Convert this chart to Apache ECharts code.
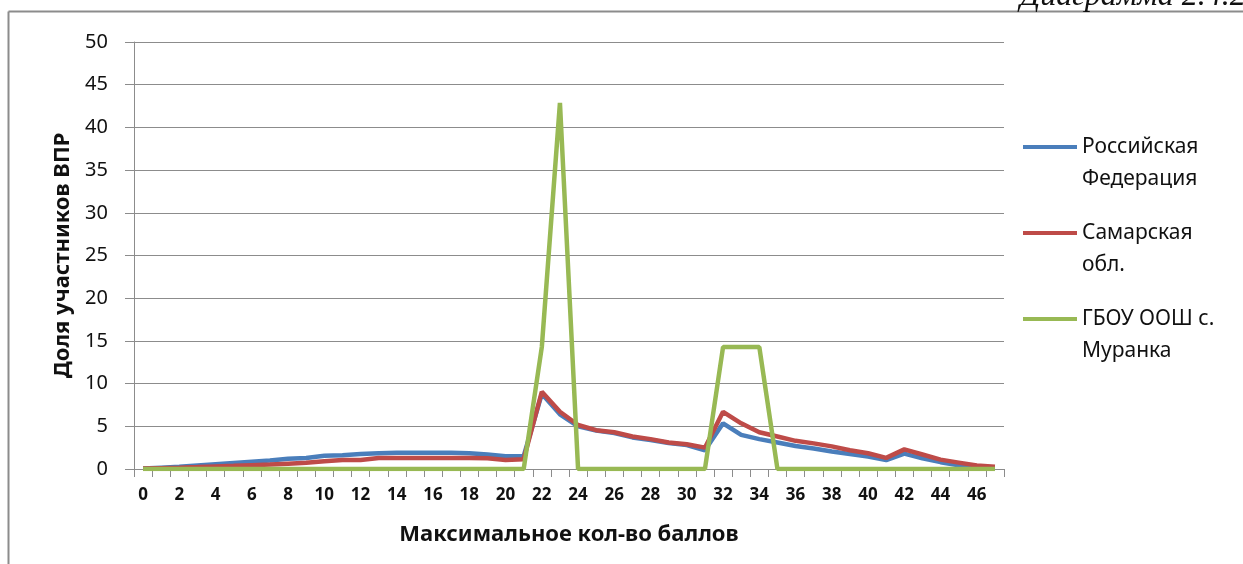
<!DOCTYPE html>
<html>
<head>
<meta charset="utf-8">
<script src="https://cdn.jsdelivr.net/npm/echarts@6/dist/echarts.min.js"></script>
<style>
html,body{margin:0;padding:0;background:#fff;}
#chart{width:1243px;height:564px;}
</style>
</head>
<body>
<div id="chart"></div>
<script>
var categories = [];
for (var c = 0; c <= 47; c++) categories.push(String(c));

var seriesNames = ['Российская\nФедерация', 'Самарская\nобл.', 'ГБОУ ООШ с.\nМуранка'];

var rfValues = [0.05, 0.15, 0.25, 0.4, 0.55, 0.7, 0.85, 1.0, 1.2, 1.3, 1.55, 1.6, 1.75, 1.85, 1.9, 1.9, 1.9, 1.9, 1.85, 1.7, 1.5, 1.5,
  8.8, 6.4, 5.0, 4.5, 4.2, 3.7, 3.4, 3.05, 2.8, 2.2,
  5.35, 4.0, 3.5, 3.1, 2.7, 2.4, 2.05, 1.75, 1.45, 1.05, 1.8, 1.25, 0.8, 0.45, 0.15, 0.05];

var samaraValues = [0.05, 0.1, 0.15, 0.22, 0.3, 0.37, 0.45, 0.52, 0.62, 0.72, 0.92, 1.05, 1.05, 1.3, 1.3, 1.3, 1.3, 1.3, 1.3, 1.25, 1.05, 1.15,
  9.05, 6.7, 5.15, 4.55, 4.3, 3.8, 3.5, 3.1, 2.9, 2.5,
  6.7, 5.35, 4.3, 3.8, 3.3, 3.0, 2.65, 2.2, 1.85, 1.3, 2.3, 1.7, 1.1, 0.75, 0.4, 0.25];

var schoolValues = [0, 0, 0, 0, 0, 0, 0, 0, 0, 0, 0, 0, 0, 0, 0, 0, 0, 0, 0, 0, 0, 0,
  14.29, 42.86, 0, 0, 0, 0, 0, 0, 0, 0,
  14.29, 14.29, 14.29, 0, 0, 0, 0, 0, 0, 0, 0, 0, 0, 0, 0, 0];

var yTicks = { min: 0, max: 50, interval: 5 };
var colors = ['#4A7EBB', '#BE4B48', '#98B954'];

var chart = echarts.init(document.getElementById('chart'), null, { renderer: 'canvas' });
var FONT = 'Noto Sans';

function legendFor(i, top) {
  return {
    show: true,
    data: [seriesNames[i]],
    orient: 'vertical',
    left: 1018,
    top: top,
    itemWidth: 54,
    itemHeight: 4,
    itemGap: 0,
    icon: 'rect',
    selectedMode: false,
    formatter: function (name) { return ' \n' + name; },
    textStyle: { fontFamily: FONT, fontSize: 21, color: '#111', lineHeight: 32 }
  };
}

chart.setOption({
  animation: false,
  backgroundColor: '#fff',
  color: colors,
  grid: { left: 134, right: 239, top: 42, bottom: 95, containLabel: false },
  legend: [legendFor(0, 94), legendFor(1, 180), legendFor(2, 266)],
  xAxis: {
    type: 'category',
    data: categories,
    boundaryGap: true,
    name: 'Максимальное кол-во баллов',
    nameLocation: 'middle',
    nameGap: 55,
    nameTextStyle: { fontFamily: FONT, fontSize: 22, fontWeight: 'bold', color: '#111' },
    axisLine: { show: true, lineStyle: { color: '#8c8c8c', width: 1 } },
    axisTick: { show: true, length: 8, interval: 0, lineStyle: { color: '#8c8c8c' } },
    axisLabel: { interval: 1, margin: 18, fontFamily: FONT, fontSize: 17, fontWeight: 'bold', color: '#111' },
    splitLine: { show: false }
  },
  yAxis: {
    type: 'value',
    min: yTicks.min,
    max: yTicks.max,
    interval: yTicks.interval,
    name: 'Доля участников ВПР',
    nameLocation: 'middle',
    nameGap: 60,
    nameRotate: 90,
    nameTextStyle: { fontFamily: FONT, fontSize: 22, fontWeight: 'bold', color: '#111' },
    axisLine: { show: true, lineStyle: { color: '#8c8c8c', width: 1 } },
    axisTick: { show: true, length: 9, lineStyle: { color: '#8c8c8c' } },
    axisLabel: { margin: 26, fontFamily: FONT, fontSize: 20, color: '#111' },
    splitLine: { show: true, lineStyle: { color: '#8c8c8c', width: 1 } }
  },
  graphic: [
    { type: 'line', shape: { x1: 8.5, y1: 11.5, x2: 1243, y2: 11.5 }, style: { stroke: '#8c8c8c', lineWidth: 2 } },
    { type: 'line', shape: { x1: 8.5, y1: 11.5, x2: 8.5, y2: 564 }, style: { stroke: '#8c8c8c', lineWidth: 2 } },
    { type: 'text', left: 1020, top: -19, style: { text: 'Диаграмма 2.4.2', fontFamily: 'Liberation Serif', fontStyle: 'italic', fontSize: 32, fill: '#111' } }
  ],
  series: [
    { name: seriesNames[0], type: 'line', data: rfValues, showSymbol: false, lineStyle: { width: 4.5, color: colors[0] }, z: 2 },
    { name: seriesNames[1], type: 'line', data: samaraValues, showSymbol: false, lineStyle: { width: 4.5, color: colors[1] }, z: 3 },
    { name: seriesNames[2], type: 'line', data: schoolValues, showSymbol: false, lineStyle: { width: 4.5, color: colors[2] }, z: 4 }
  ]
});
</script>
</body>
</html>
